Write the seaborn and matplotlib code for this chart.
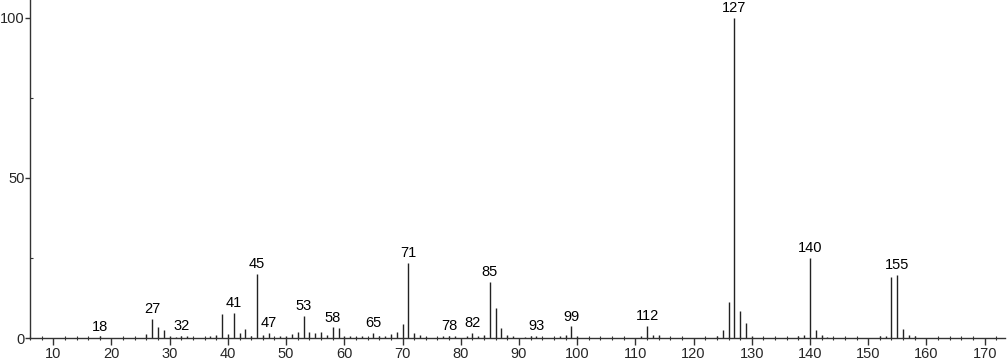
import matplotlib
matplotlib.use("Agg")
import matplotlib.pyplot as plt
from matplotlib.ticker import MultipleLocator
import seaborn as sns
import pandas as pd

# m/z values and relative intensities (%)
mz = [18, 26, 27, 28, 29, 30, 31, 32, 33, 37, 38, 39, 40, 41, 42, 43, 44, 45,
      46, 47, 49, 50, 51, 52, 53, 54, 55, 56, 57, 58, 59, 60, 61, 62, 63, 65,
      66, 67, 68, 69, 70, 71, 72, 73, 74, 77, 78, 79, 81, 82, 83, 84, 85, 86,
      87, 88, 89, 91, 92, 93, 97, 98, 99, 100, 111, 112, 113, 114, 124, 125,
      126, 127, 128, 129, 130, 138, 139, 140, 141, 142, 143, 152, 153, 154,
      155, 156, 157, 158]
intensity = [0.5, 1.3, 6.0, 3.4, 2.5, 0.5, 0.3, 0.6, 0.5, 0.5, 1.0, 7.5, 1.2,
             7.9, 1.5, 2.8, 0.7, 20.0, 0.8, 1.7, 0.5, 0.5, 1.3, 1.9, 6.8, 1.8,
             1.5, 1.8, 1.0, 3.3, 3.0, 0.6, 0.5, 0.4, 0.5, 1.5, 0.5, 0.6, 1.4,
             2.0, 4.5, 23.4, 1.7, 0.8, 0.4, 0.5, 0.6, 0.5, 0.5, 1.6, 0.5, 0.8,
             17.5, 9.5, 3.0, 0.8, 0.5, 0.4, 0.5, 0.6, 0.5, 0.8, 3.6, 0.6, 0.5,
             3.7, 1.0, 0.8, 0.6, 2.5, 11.1, 100.0, 8.5, 4.8, 0.5, 0.7, 0.9,
             25.1, 2.5, 1.0, 0.3, 0.5, 0.6, 19.0, 19.7, 2.7, 1.0, 0.6]

labelled = [18, 27, 32, 41, 45, 47, 53, 58, 65, 71, 78, 82, 85, 93, 99, 112,
            127, 140, 155]

x_major = list(range(10, 171, 10))
y_major = [0, 50, 100]

df = pd.DataFrame({"mz": mz, "intensity": intensity})

sns.set_theme(style="ticks")
plt.rcParams["font.family"] = ["Liberation Sans", "DejaVu Sans"]

fig = plt.figure(figsize=(10.07, 3.62), dpi=100)
ax = fig.add_axes([30 / 1007, 24 / 362, 975 / 1007, 338 / 362])

ax.vlines(df["mz"], 0, df["intensity"], color="#222222", linewidth=1.0)

lookup = dict(zip(mz, intensity))
for m in labelled:
    ax.annotate(str(m), xy=(m, lookup[m]), xytext=(0, 2),
                textcoords="offset points", ha="center", va="bottom",
                fontsize=10.5, color="black")

ax.set_xlim(6.0, 173.5)
ax.set_ylim(0, 105.6)
ax.set_xticks(x_major)
ax.set_yticks(y_major)
ax.xaxis.set_minor_locator(MultipleLocator(2))
ax.yaxis.set_minor_locator(MultipleLocator(25))

ax.tick_params(axis="x", which="major", direction="out", length=5,
               width=1, color="#333333", labelsize=10.5, pad=1.5)
ax.tick_params(axis="x", which="minor", direction="inout", length=3.5,
               width=0.8, color="#333333")
ax.tick_params(axis="y", which="major", direction="out", length=3.5,
               width=1, color="#333333", labelsize=10.5, pad=0.5)
ax.tick_params(axis="y", which="minor", direction="in", length=2,
               width=0.8, color="#333333")

sns.despine(ax=ax)
for s in ("left", "bottom"):
    ax.spines[s].set_color("#333333")
    ax.spines[s].set_linewidth(1.0)

ax.set_xlabel("")
ax.set_ylabel("")
fig.savefig("out.png", dpi=100)
